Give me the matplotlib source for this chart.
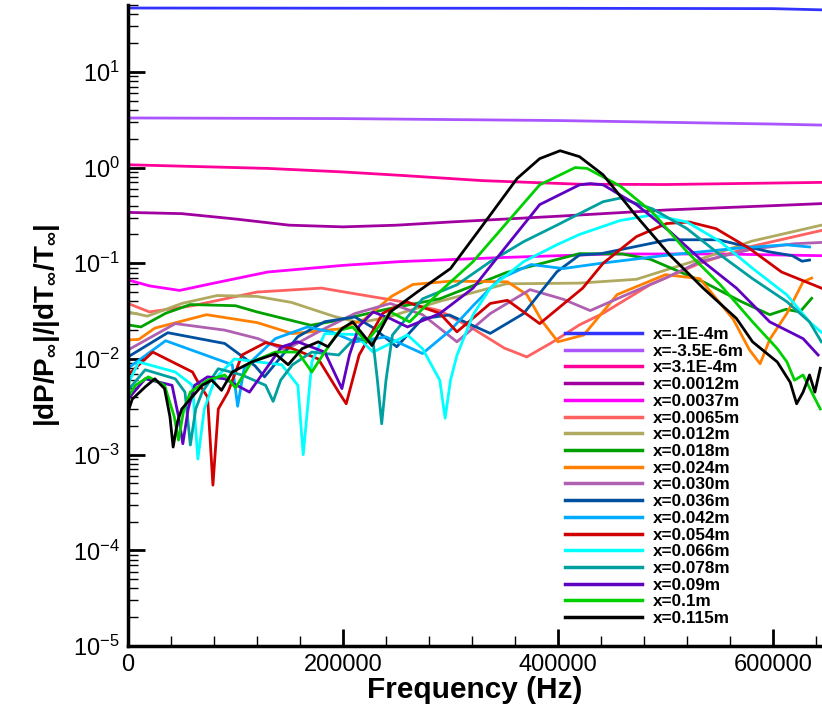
import numpy as np
import matplotlib
matplotlib.use('Agg')
import matplotlib.pyplot as plt
from matplotlib.ticker import MultipleLocator, LogLocator, FixedLocator

plt.rcParams['font.family'] = ['Liberation Sans', 'DejaVu Sans']
plt.rcParams['mathtext.fontset'] = 'custom'
plt.rcParams['mathtext.rm'] = 'Liberation Sans'
plt.rcParams['mathtext.bf'] = 'Liberation Sans:bold'

# legend labels, one per station
labels = ['x=-1E-4m', 'x=-3.5E-6m', 'x=3.1E-4m', 'x=0.0012m', 'x=0.0037m',
          'x=0.0065m', 'x=0.012m', 'x=0.018m', 'x=0.024m', 'x=0.030m',
          'x=0.036m', 'x=0.042m', 'x=0.054m', 'x=0.066m', 'x=0.078m',
          'x=0.09m', 'x=0.1m', 'x=0.115m']
colors = ['#3333ff', '#aa55ff', '#ff0099', '#a000a0', '#ff00ff', '#ff6060',
          '#b0aa60', '#00a000', '#ff8000', '#b060b0', '#0050a0', '#00aaff',
          '#d00000', '#00ffff', '#00a0a0', '#6000c0', '#00d000', '#000000']

# frequency (Hz) / amplitude pairs
f01 = [0, 200e3, 400e3, 600e3, 645e3]
a01 = [46.5, 46.3, 46.2, 45.8, 44.5]
f02 = [0, 200e3, 400e3, 600e3, 645e3]
a02 = [3.3, 3.25, 3.1, 2.85, 2.78]
f03 = [0, 130e3, 200e3, 253e3, 330e3, 420e3, 500e3, 645e3]
a03 = [1.07, 0.98, 0.9, 0.83, 0.73, 0.67, 0.665, 0.7]
f04 = [0, 50e3, 100e3, 150e3, 200e3, 250e3, 300e3, 400e3, 500e3, 600e3, 645e3]
a04 = [0.34, 0.33, 0.29, 0.25, 0.24, 0.25, 0.27, 0.31, 0.36, 0.4, 0.42]
f05 = [0, 20e3, 48e3, 80e3, 130e3, 200e3, 253e3, 350e3, 450e3, 550e3, 645e3]
a05 = [0.067, 0.058, 0.052, 0.062, 0.081, 0.095, 0.104, 0.115, 0.125, 0.125, 0.12]
f06 = [0, 20e3, 60e3, 120e3, 180e3, 211e3, 253e3, 290e3, 321e3, 350e3, 371e3,
       395e3, 420e3, 442e3, 486e3, 532e3, 580e3, 645e3]
a06 = [0.038, 0.031, 0.036, 0.05, 0.055, 0.048, 0.04, 0.032, 0.0207, 0.013, 0.0105,
       0.015, 0.0227, 0.03, 0.06, 0.1, 0.15, 0.22]
f07 = [0, 18e3, 50e3, 83e3, 120e3, 152e3, 191e3, 215e3, 240e3, 290e3, 352e3,
       420e3, 473e3, 532e3, 580e3, 645e3]
a07 = [0.031, 0.028, 0.038, 0.046, 0.045, 0.039, 0.028, 0.024, 0.027, 0.04, 0.061,
       0.062, 0.068, 0.11, 0.17, 0.25]
f08 = [0, 12e3, 35e3, 58e3, 100e3, 120e3, 170e3, 197e3, 240e3, 290e3, 352e3,
       420e3, 460e3, 486e3, 535e3, 570e3, 597e3, 612e3, 625e3, 636e3]
a08 = [0.0227, 0.0216, 0.03, 0.037, 0.036, 0.031, 0.0225, 0.0255, 0.033, 0.0425, 0.08,
       0.126, 0.125, 0.11, 0.064, 0.04, 0.029, 0.033, 0.031, 0.043]
f09 = [0, 10e3, 25e3, 73e3, 120e3, 153e3, 197e3, 220e3, 245e3, 265e3, 300e3,
       353e3, 371e3, 385e3, 400e3, 424e3, 455e3, 500e3, 532e3, 563e3, 578e3,
       588e3, 597e3, 613e3, 628e3, 636e3]
a09 = [0.0158, 0.016, 0.021, 0.029, 0.024, 0.0184, 0.0206, 0.026, 0.045, 0.06, 0.065,
       0.064, 0.047, 0.025, 0.0151, 0.0178, 0.047, 0.076, 0.069, 0.026, 0.0125,
       0.0089, 0.016, 0.03, 0.064, 0.07]
f10 = [0, 44e3, 90e3, 121e3, 146e3, 180e3, 211e3, 244e3, 274e3, 306e3, 337e3,
       374e3, 405e3, 430e3, 460e3, 500e3, 532e3, 580e3, 620e3, 645e3]
a10 = [0.0124, 0.0234, 0.02, 0.0163, 0.0124, 0.02, 0.0298, 0.038, 0.029, 0.0151, 0.0298,
       0.053, 0.042, 0.032, 0.045, 0.07, 0.104, 0.14, 0.16, 0.165]
f11 = [0, 37e3, 90e3, 118e3, 127e3, 158e3, 183e3, 211e3, 228e3, 250e3, 274e3,
       299e3, 337e3, 368e3, 399e3, 420e3, 440e3, 503e3, 549e3, 596e3, 618e3,
       627e3, 634e3]
a11 = [0.0105, 0.0188, 0.0145, 0.0085, 0.0065, 0.0171, 0.0245, 0.0275, 0.0212, 0.0134,
       0.0264, 0.0288, 0.0185, 0.0298, 0.0815, 0.122, 0.126, 0.176, 0.176, 0.132,
       0.12, 0.105, 0.108]
f12 = [0, 35e3, 97e3, 102e3, 108e3, 137e3, 167e3, 190e3, 211e3, 240e3, 274e3,
       300e3, 321e3, 346e3, 375e3, 405e3, 440e3, 503e3, 565e3, 612e3, 634e3]
a12 = [0.008, 0.0155, 0.0087, 0.0032, 0.008, 0.0163, 0.0216, 0.019, 0.0151, 0.017,
       0.0114, 0.02, 0.036, 0.069, 0.097, 0.088, 0.1, 0.122, 0.143, 0.156, 0.148]
f13 = [0, 23e3, 60e3, 66e3, 74e3, 79e3, 84e3, 93e3, 106e3, 128e3, 153e3, 177e3,
       196e3, 203e3, 215e3, 237e3, 259e3, 290e3, 306e3, 337e3, 353e3, 383e3,
       423e3, 442e3, 473e3, 501e3, 522e3, 547e3, 578e3, 608e3, 645e3]
a13 = [0.0068, 0.0118, 0.0073, 0.0055, 0.004, 0.00048, 0.003, 0.0045, 0.011, 0.0148,
       0.0128, 0.01, 0.0045, 0.0034, 0.011, 0.03, 0.0396, 0.03, 0.0192, 0.038, 0.041,
       0.0234, 0.055, 0.1, 0.19, 0.26, 0.27, 0.23, 0.143, 0.081, 0.055]
f14 = [0, 10e3, 44e3, 60e3, 65e3, 71e3, 81e3, 99e3, 121e3, 143e3, 158e3, 163e3,
       168e3, 171e3, 183e3, 211e3, 228e3, 260e3, 274e3, 290e3, 295e3, 300e3,
       306e3, 321e3, 337e3, 368e3, 399e3, 420e3, 458e3, 488e3, 520e3, 551e3,
       581e3, 613e3, 634e3, 645e3]
a14 = [0.0055, 0.0093, 0.0073, 0.0053, 0.0009, 0.003, 0.0062, 0.01, 0.0093, 0.0087,
       0.0053, 0.001, 0.004, 0.0093, 0.0184, 0.018, 0.0118, 0.0178, 0.0128, 0.006,
       0.0024, 0.006, 0.0109, 0.029, 0.055, 0.104, 0.156, 0.2, 0.28, 0.32, 0.27,
       0.168, 0.0885, 0.0466, 0.0244, 0.019]
f15 = [0, 16e3, 44e3, 53e3, 58e3, 63e3, 69e3, 84e3, 106e3, 128e3, 135e3, 142e3,
       153e3, 171e3, 196e3, 211e3, 228e3, 232e3, 236e3, 240e3, 246e3, 274e3,
       306e3, 337e3, 368e3, 399e3, 420e3, 442e3, 458e3, 488e3, 520e3, 551e3,
       581e3, 613e3, 634e3, 645e3]
a15 = [0.0047, 0.0077, 0.0062, 0.0045, 0.00126, 0.003, 0.0045, 0.0079, 0.0068, 0.0053,
       0.0036, 0.006, 0.0087, 0.0118, 0.011, 0.0165, 0.0151, 0.006, 0.0021, 0.006,
       0.0178, 0.0425, 0.0595, 0.104, 0.168, 0.25, 0.33, 0.44, 0.48, 0.37, 0.23,
       0.122, 0.069, 0.0396, 0.0244, 0.0151]
f16 = [0, 16e3, 41e3, 47e3, 51e3, 56e3, 62e3, 74e3, 90e3, 113e3, 143e3, 158e3,
       183e3, 199e3, 206e3, 215e3, 228e3, 244e3, 260e3, 290e3, 321e3, 353e3,
       383e3, 420e3, 430e3, 442e3, 473e3, 504e3, 535e3, 566e3, 597e3, 628e3, 642e3]
a16 = [0.0038, 0.0062, 0.0053, 0.0025, 0.0013, 0.003, 0.0053, 0.0065, 0.0062, 0.0045,
       0.0134, 0.0151, 0.0118, 0.0049, 0.011, 0.022, 0.031, 0.0264, 0.0216, 0.0298,
       0.055, 0.156, 0.41, 0.66, 0.68, 0.66, 0.41, 0.215, 0.104, 0.055, 0.0244,
       0.0163, 0.011]
f17 = [0, 7e3, 19e3, 34e3, 43e3, 47e3, 52e3, 58e3, 74e3, 90e3, 100e3, 115e3,
       137e3, 158e3, 171e3, 183e3, 197e3, 209e3, 222e3, 244e3, 262e3, 290e3,
       321e3, 353e3, 383e3, 416e3, 427e3, 458e3, 488e3, 520e3, 551e3, 581e3,
       604e3, 613e3, 620e3, 628e3, 636e3, 644e3]
a17 = [0.004, 0.0053, 0.0065, 0.0053, 0.0025, 0.00142, 0.003, 0.0045, 0.006, 0.0068,
       0.005, 0.0093, 0.0118, 0.0118, 0.0073, 0.0118, 0.02, 0.0215, 0.0151, 0.031,
       0.0244, 0.0503, 0.104, 0.27, 0.66, 1.0, 0.98, 0.64, 0.34, 0.132, 0.0595,
       0.0244, 0.0128, 0.0093, 0.006, 0.0068, 0.0045, 0.003]
f18 = [0, 4e3, 16e3, 25e3, 34e3, 39e3, 42e3, 46e3, 50e3, 69e3, 78e3, 87e3, 97e3,
       115e3, 137e3, 149e3, 162e3, 177e3, 186e3, 199e3, 209e3, 227e3, 244e3,
       269e3, 300e3, 330e3, 362e3, 383e3, 402e3, 420e3, 442e3, 473e3, 504e3,
       535e3, 566e3, 581e3, 604e3, 616e3, 622e3, 628e3, 634e3, 639e3, 644e3]
a18 = [0.0028, 0.0038, 0.0051, 0.0062, 0.0049, 0.0025, 0.0012, 0.0022, 0.003, 0.0053,
       0.006, 0.0047, 0.0073, 0.0093, 0.0113, 0.0087, 0.0128, 0.0151, 0.0134, 0.0207,
       0.0244, 0.0138, 0.031, 0.05, 0.088, 0.25, 0.77, 1.24, 1.5, 1.3, 0.84, 0.31,
       0.122, 0.055, 0.0265, 0.0151, 0.0093, 0.0057, 0.0034, 0.0045, 0.0068,
       0.0045, 0.008]

freqs = [f01, f02, f03, f04, f05, f06, f07, f08, f09, f10, f11, f12, f13, f14, f15, f16, f17, f18]
amps = [a01, a02, a03, a04, a05, a06, a07, a08, a09, a10, a11, a12, a13, a14, a15, a16, a17, a18]

fig = plt.figure(figsize=(8.22, 7.10), dpi=100)
ax = fig.add_axes([128 / 822, 1 - 646 / 710, 1 - 128 / 822, (646 - 5) / 710])

for f, a, c, lab in zip(freqs, amps, colors, labels):
    ax.plot(f, a, color=c, lw=2.0, label=lab, solid_joinstyle='round')

ax.set_yscale('log')
ax.set_xlim(0, 645600)
ax.set_ylim(1e-5, 50)

ax.xaxis.set_major_locator(FixedLocator([0, 200000, 400000, 600000]))
ax.xaxis.set_minor_locator(MultipleLocator(40000))
ax.xaxis.set_major_formatter(matplotlib.ticker.FuncFormatter(lambda v, p: '%d' % v))
ax.yaxis.set_major_locator(LogLocator(base=10, numticks=20))
ax.yaxis.set_minor_locator(LogLocator(base=10, subs=np.arange(2, 10), numticks=20))

ax.tick_params(which='major', direction='in', length=12, width=2, labelsize=17, pad=6)
ax.tick_params(which='minor', direction='in', length=7, width=1)
ax.tick_params(top=False, right=False)
for s in ['top', 'right']:
    ax.spines[s].set_visible(False)
for s in ['left', 'bottom']:
    ax.spines[s].set_linewidth(2.5)

ax.set_xlabel('Frequency (Hz)', fontsize=21.5, fontweight='bold', labelpad=0)
ax.set_ylabel(r'$\mathbf{|dP/P_{\infty}|/|dT_{\infty}/T_{\infty}|}$', fontsize=20, labelpad=8)

leg = fig.legend(loc='upper left', bbox_to_anchor=(565 / 822, 1 - 327 / 710),
                 frameon=False, handlelength=4.5, handletextpad=0.64,
                 labelspacing=0.1, borderpad=0, borderaxespad=0,
                 prop={'weight': 'bold', 'size': 12.3})
for line in leg.get_lines():
    line.set_linewidth(2.5)

fig.savefig('out.png', dpi=100)
